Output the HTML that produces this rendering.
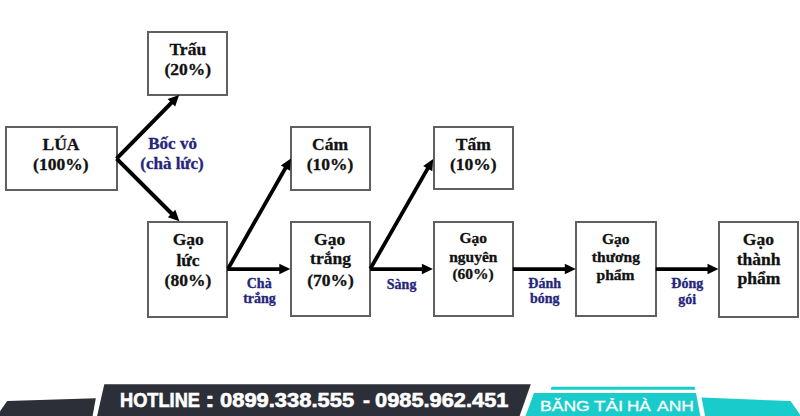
<!DOCTYPE html>
<html><head><meta charset="utf-8"><style>
html,body{margin:0;padding:0;background:#fff;}
body{width:800px;height:416px;position:relative;overflow:hidden;font-family:"Liberation Serif",serif;}
.b{position:absolute;box-sizing:border-box;border:2px solid #606060;}
.t{position:absolute;white-space:nowrap;font-weight:bold;line-height:1;transform:translateX(-50%);-webkit-text-stroke:0.3px currentColor;}
.s{position:absolute;left:0;top:0;}
.foot{position:absolute;left:0;top:0;}
.hl{position:absolute;color:#fff;white-space:nowrap;line-height:1;transform-origin:0 0;}
</style></head><body>
<div class="b" style="left:4.80px;top:125.80px;width:112.80px;height:64.80px"></div><div class="b" style="left:147.00px;top:30.50px;width:81.40px;height:65.30px"></div><div class="b" style="left:146.90px;top:220.90px;width:81.30px;height:96.80px"></div><div class="b" style="left:289.80px;top:125.70px;width:81.40px;height:64.90px"></div><div class="b" style="left:289.80px;top:220.70px;width:81.40px;height:96.80px"></div><div class="b" style="left:432.50px;top:125.70px;width:81.30px;height:64.70px"></div><div class="b" style="left:432.70px;top:220.90px;width:81.20px;height:96.60px"></div><div class="b" style="left:575.30px;top:220.70px;width:81.50px;height:96.80px"></div><div class="b" style="left:718.00px;top:220.70px;width:81.10px;height:97.00px"></div><div class="t" style="left:61px;top:136.00px;font-size:17.5px;color:#111">LÚA</div><div class="t" style="left:60.8px;top:156.00px;font-size:17.5px;color:#111">(100%)</div><div class="t" style="left:187.8px;top:41.00px;font-size:17.5px;color:#111">Trấu</div><div class="t" style="left:187.8px;top:61.00px;font-size:17.5px;color:#111">(20%)</div><div class="t" style="left:188.2px;top:231.00px;font-size:17.5px;color:#111">Gạo</div><div class="t" style="left:188px;top:252.00px;font-size:17.5px;color:#111">lức</div><div class="t" style="left:187.9px;top:272.00px;font-size:17.5px;color:#111">(80%)</div><div class="t" style="left:330px;top:136.00px;font-size:17.5px;color:#111">Cám</div><div class="t" style="left:330px;top:156.00px;font-size:17.5px;color:#111">(10%)</div><div class="t" style="left:329.6px;top:231.00px;font-size:17.5px;color:#111">Gạo</div><div class="t" style="left:330.5px;top:250.00px;font-size:17.5px;color:#111">trắng</div><div class="t" style="left:330.5px;top:272.00px;font-size:17.5px;color:#111">(70%)</div><div class="t" style="left:473.3px;top:136.00px;font-size:17.5px;color:#111">Tấm</div><div class="t" style="left:473.3px;top:156.00px;font-size:17.5px;color:#111">(10%)</div><div class="t" style="left:473.2px;top:230.00px;font-size:15.5px;color:#111">Gạo</div><div class="t" style="left:473.3px;top:249.00px;font-size:15.5px;color:#111">nguyên</div><div class="t" style="left:473.1px;top:266.00px;font-size:15.5px;color:#111">(60%)</div><div class="t" style="left:615.8px;top:231.00px;font-size:15.5px;color:#111">Gạo</div><div class="t" style="left:615.9px;top:249.00px;font-size:15.5px;color:#111">thương</div><div class="t" style="left:615.5px;top:267.00px;font-size:15.5px;color:#111">phẩm</div><div class="t" style="left:758.4px;top:231.00px;font-size:17.5px;color:#111">Gạo</div><div class="t" style="left:758.7px;top:251.00px;font-size:17.5px;color:#111">thành</div><div class="t" style="left:758.9px;top:270.00px;font-size:17.5px;color:#111">phẩm</div><div class="t" style="left:172.6px;top:135.00px;font-size:17px;color:#25257a">Bốc vỏ</div><div class="t" style="left:172px;top:155.00px;font-size:17px;color:#25257a">(chà lức)</div><div class="t" style="left:259.2px;top:277.00px;font-size:14px;color:#25257a">Chà</div><div class="t" style="left:259.5px;top:292.00px;font-size:14px;color:#25257a">trắng</div><div class="t" style="left:401.6px;top:278.00px;font-size:14px;color:#25257a">Sàng</div><div class="t" style="left:544.7px;top:277.00px;font-size:14px;color:#25257a">Đánh</div><div class="t" style="left:544.7px;top:292.00px;font-size:14px;color:#25257a">bóng</div><div class="t" style="left:687.3px;top:277.00px;font-size:14px;color:#25257a">Đóng</div><div class="t" style="left:687.2px;top:293.00px;font-size:14px;color:#25257a">gói</div>
<svg class="s" width="800" height="416" viewBox="0 0 800 416"><line x1="116.60" y1="158.70" x2="172.10" y2="102.04" stroke="#000" stroke-width="4"/><polygon points="179.10,94.90 175.15,106.43 167.65,99.08" fill="#000"/><line x1="116.60" y1="158.70" x2="172.32" y2="214.24" stroke="#000" stroke-width="4"/><polygon points="179.40,221.30 167.90,217.25 175.32,209.82" fill="#000"/><line x1="228.00" y1="268.80" x2="285.95" y2="167.19" stroke="#000" stroke-width="3.8"/><polygon points="290.90,158.50 290.01,170.66 280.89,165.45" fill="#000"/><line x1="227.20" y1="269.10" x2="280.30" y2="269.10" stroke="#000" stroke-width="3.8"/><polygon points="290.30,269.10 279.30,274.35 279.30,263.85" fill="#000"/><line x1="370.30" y1="268.80" x2="428.23" y2="167.68" stroke="#000" stroke-width="3.8"/><polygon points="433.20,159.00 432.29,171.15 423.18,165.94" fill="#000"/><line x1="370.20" y1="269.10" x2="422.90" y2="269.10" stroke="#000" stroke-width="3.8"/><polygon points="432.90,269.10 421.90,274.35 421.90,263.85" fill="#000"/><line x1="512.90" y1="269.10" x2="565.80" y2="269.10" stroke="#000" stroke-width="3.8"/><polygon points="575.80,269.10 564.80,274.35 564.80,263.85" fill="#000"/><line x1="655.80" y1="269.10" x2="708.50" y2="269.10" stroke="#000" stroke-width="3.8"/><polygon points="718.50,269.10 707.50,274.35 707.50,263.85" fill="#000"/></svg>
<svg class="foot" width="800" height="416" viewBox="0 0 800 416">
<polygon points="7.2,401.1 95.8,398.3 92.6,416 0,416 0,411.25" fill="#2d2f38"/>
<polygon points="104.3,384.2 530.8,384.2 519.6,416 97.1,416" fill="#2d2f38"/>
<polygon points="534,393.1 696,393.1 700.3,416 525.5,416" fill="#19cccb"/>
<polygon points="551.6,386.7 694.6,386.7 695.3,389.7 550.6,389.7" fill="#19cccb"/>
<polygon points="701.5,397.6 790.6,401 800,414.5 800,416 705.1,416" fill="#19cccb"/>
</svg>
<div class="hl" style="left:119.79px;top:390px;transform:scaleX(0.9115);font-family:'Liberation Sans';font-weight:bold;font-size:20px;-webkit-text-stroke:0.6px #fff">HOTLINE</div><div class="hl" style="left:204.57px;top:390px;transform:scaleX(1.4667);font-family:'Liberation Sans';font-weight:bold;font-size:20px;-webkit-text-stroke:0.6px #fff">:</div><div class="hl" style="left:220.0px;top:390px;transform:scaleX(1.0963);font-family:'Liberation Sans';font-weight:bold;font-size:20px;-webkit-text-stroke:0.6px #fff">0899.338.555</div><div class="hl" style="left:362.5px;top:390px;transform:scaleX(1.0417);font-family:'Liberation Sans';font-weight:bold;font-size:20px;-webkit-text-stroke:0.6px #fff">-</div><div class="hl" style="left:375.0px;top:390px;transform:scaleX(1.0902);font-family:'Liberation Sans';font-weight:bold;font-size:20px;-webkit-text-stroke:0.6px #fff">0985.962.451</div><div class="hl" style="left:540.37px;top:398px;transform:scaleX(1.131);font-family:'Liberation Sans';font-weight:normal;font-size:15.5px;-webkit-text-stroke:0.3px #fff">BĂNG</div><div class="hl" style="left:593.7px;top:398px;transform:scaleX(1.2136);font-family:'Liberation Sans';font-weight:normal;font-size:15.5px;-webkit-text-stroke:0.3px #fff">TẢI</div><div class="hl" style="left:626.7px;top:398px;transform:scaleX(1.1048);font-family:'Liberation Sans';font-weight:normal;font-size:15.5px;-webkit-text-stroke:0.3px #fff">HÀ</div><div class="hl" style="left:657.0px;top:398px;transform:scaleX(1.125);font-family:'Liberation Sans';font-weight:normal;font-size:15.5px;-webkit-text-stroke:0.3px #fff">ANH</div>
</body></html>
